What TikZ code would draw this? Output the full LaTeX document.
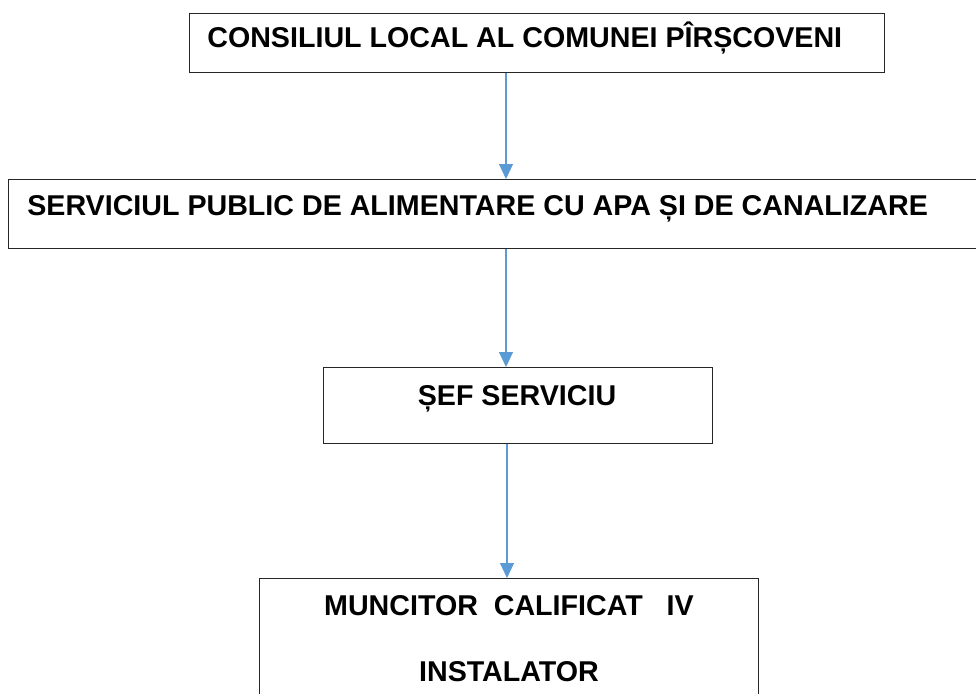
\documentclass[tikz,border=0pt]{standalone}
\usepackage{fontspec}
\setmainfont{Liberation Sans}
\usepackage{xcolor}
\usetikzlibrary{arrows.meta}
\definecolor{sageata}{HTML}{5B9BD5}
\tikzset{
	cutie/.style={draw=black!85,line width=0.75pt,anchor=north west,inner sep=0pt},
	eticheta/.style={font=\fontsize{16.3}{19}\selectfont\bfseries,inner sep=0pt},
	leg/.style={draw=sageata,line width=0.6pt,-{Triangle[length=0.3cm,width=0.28cm]}}
}
\begin{document}
\begin{tikzpicture}[x=0.02cm,y=-0.02cm]
		\useasboundingbox[fill=white](0,0)rectangle(976,693);
		\node[cutie,minimum width=695*0.02cm,minimum height=59*0.02cm](consiliu)at(189,13){};
		\node[cutie,minimum width=975*0.02cm,minimum height=69*0.02cm](serviciu)at(8,179){};
		\node[cutie,minimum width=389*0.02cm,minimum height=76*0.02cm](sef)at(323,367){};
		\node[cutie,minimum width=499*0.02cm,minimum height=130*0.02cm](muncitor)at(259,578){};
		\node[eticheta,anchor=base west](tconsiliu)at(207,47){CONSILIUL LOCAL AL COMUNEI PÎRȘCOVENI};
		\node[eticheta,anchor=base west](tserviciu)at(27,215){SERVICIUL PUBLIC DE ALIMENTARE CU APA ȘI DE CANALIZARE};
		\node[eticheta,anchor=base](tsef)at(517,405){ȘEF SERVICIU};
		\node[eticheta,anchor=base](tmuncitor)at(509,615){MUNCITOR\ \ CALIFICAT\ \ \ IV};
		\node[eticheta,anchor=base](tinstalator)at(509,681){INSTALATOR};
		\draw[leg]([xshift=317*0.02cm]consiliu.south west)--([xshift=498*0.02cm]serviciu.north west);
		\draw[leg]([xshift=498*0.02cm]serviciu.south west)--([xshift=183*0.02cm]sef.north west);
		\draw[leg]([xshift=184*0.02cm]sef.south west)--([xshift=248*0.02cm]muncitor.north west);
		\end{tikzpicture}
\end{document}
